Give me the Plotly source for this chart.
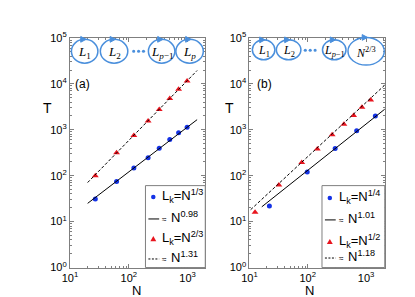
import plotly.graph_objects as go

# ---------------- data ----------------
a_N = [27, 62, 122, 213, 329, 497, 703, 980]
a_blue_T = [31, 75, 147, 245, 397, 617, 866, 1140]
a_red_T = [100, 316, 750, 1560, 2760, 4800, 7600, 11500]
a_fit_N = [20, 1450]
a_fit_blue_T = [25, 1660]
a_fit_red_T = [71, 19500]

b_blue_N = [22, 98, 295, 690, 1440]
b_blue_T = [22, 120, 390, 950, 1990]
b_red_N = [12.5, 32, 79, 146, 262, 417, 612, 850, 1200]
b_red_T = [16, 63, 193, 380, 775, 1320, 2040, 3100, 4450]
b_fit_blue_N = [16.3, 2100]
b_fit_blue_T = [21, 2820]
b_fit_red_N = [10.5, 2100]
b_fit_red_T = [18.2, 9460]

x_ticks = [10, 100, 1000]
x_ticktext = ["10<sup>1</sup>", "10<sup>2</sup>", "10<sup>3</sup>"]
y_ticks = [1, 10, 100, 1000, 10000, 100000]
y_ticktext = ["10<sup>0</sup>", "10<sup>1</sup>", "10<sup>2</sup>",
              "10<sup>3</sup>", "10<sup>4</sup>", "10<sup>5</sup>"]

leg_a = ["L<sub>k</sub>=N<sup>1/3</sup>", "N<sup>0.98</sup>",
         "L<sub>k</sub>=N<sup>2/3</sup>", "N<sup>1.31</sup>"]
leg_b = ["L<sub>k</sub>=N<sup>1/4</sup>", "N<sup>1.01</sup>",
         "L<sub>k</sub>=N<sup>1/2</sup>", "N<sup>1.18</sup>"]

W, H = 415, 297
BLUE = "#1432e6"
RED = "#e8141e"
LOOP = "#4a8fdc"
GRAY = "#7f7f7f"
FONT = "Liberation Sans, Arial, sans-serif"
DASH = "3px,2px"

fig = go.Figure()

# panel a
fig.add_trace(go.Scatter(x=a_N, y=a_blue_T, mode="markers", name=leg_a[0],
                         marker=dict(symbol="circle", size=5, color=BLUE),
                         xaxis="x", yaxis="y"))
fig.add_trace(go.Scatter(x=a_fit_N, y=a_fit_blue_T, mode="lines", name=leg_a[1],
                         line=dict(color="black", width=1),
                         xaxis="x", yaxis="y"))
fig.add_trace(go.Scatter(x=a_N, y=a_red_T, mode="markers", name=leg_a[2],
                         marker=dict(symbol="triangle-up", size=6, color=RED),
                         xaxis="x", yaxis="y"))
fig.add_trace(go.Scatter(x=a_fit_N, y=a_fit_red_T, mode="lines", name=leg_a[3],
                         line=dict(color="black", width=1, dash=DASH),
                         xaxis="x", yaxis="y"))

# panel b
fig.add_trace(go.Scatter(x=b_blue_N, y=b_blue_T, mode="markers", name=leg_b[0],
                         marker=dict(symbol="circle", size=5, color=BLUE),
                         xaxis="x2", yaxis="y2"))
fig.add_trace(go.Scatter(x=b_fit_blue_N, y=b_fit_blue_T, mode="lines", name=leg_b[1],
                         line=dict(color="black", width=1),
                         xaxis="x2", yaxis="y2"))
fig.add_trace(go.Scatter(x=b_red_N, y=b_red_T, mode="markers", name=leg_b[2],
                         marker=dict(symbol="triangle-up", size=6, color=RED),
                         xaxis="x2", yaxis="y2"))
fig.add_trace(go.Scatter(x=b_fit_red_N, y=b_fit_red_T, mode="lines", name=leg_b[3],
                         line=dict(color="black", width=1, dash=DASH),
                         xaxis="x2", yaxis="y2"))

minor_vals = [m * 10 ** k for k in range(0, 5) for m in range(2, 10)]


def px(x):
    return x / W


def py(y):
    return 1 - y / H


axis_common = dict(type="log", showgrid=False, zeroline=False, showline=True,
                   linecolor=GRAY, linewidth=1, mirror="allticks",
                   ticks="inside", ticklen=4, tickcolor=GRAY,
                   tickfont=dict(size=11, color="black", family=FONT),
                   minor=dict(tickvals=minor_vals, ticks="inside", ticklen=2,
                              tickcolor=GRAY, showgrid=False))

yd = [py(264), py(23)]
fig.update_layout(
    width=W, height=H, margin=dict(l=0, r=0, t=0, b=0),
    paper_bgcolor="white", plot_bgcolor="white", showlegend=False,
    font=dict(family=FONT, color="black"),
    xaxis=dict(axis_common, domain=[px(55), px(193)], range=[1, 3.3],
               tickvals=x_ticks, ticktext=x_ticktext, anchor="y"),
    yaxis=dict(axis_common, domain=yd, range=[0, 5],
               tickvals=y_ticks, ticktext=y_ticktext, anchor="x"),
    xaxis2=dict(axis_common, domain=[px(238), px(376)], range=[1, 3.32],
                tickvals=x_ticks, ticktext=x_ticktext, anchor="y2"),
    yaxis2=dict(axis_common, domain=yd, range=[0, 5],
                tickvals=y_ticks, ticktext=y_ticktext, anchor="x2"),
)

ann = []
shapes = []


def text(t, x, y, s, family=FONT, xanchor="center", color="black"):
    ann.append(dict(text=t, x=px(x), y=py(y), xref="paper", yref="paper",
                    showarrow=False, font=dict(size=s, family=family, color=color),
                    xanchor=xanchor, yanchor="middle"))


# axis titles and panel labels
for t, x, y, s in [("T", 32, 97, 14), ("T", 218, 97, 14),
                   ("N", 123, 288, 13), ("N", 299, 288, 13),
                   ("(a)", 68, 71, 12), ("(b)", 253, 71, 12)]:
    text(t, x, y, s)


def loop(cx, cy, rx, ry, label, size=12):
    shapes.append(dict(type="circle", xref="paper", yref="paper",
                       x0=px(cx - rx), x1=px(cx + rx), y0=py(cy + ry), y1=py(cy - ry),
                       line=dict(color=LOOP, width=1.5)))
    ax_, ay_ = cx - 2, cy - ry
    path = "M {} {} L {} {} L {} {} Z".format(px(ax_ + 3.5), py(ay_), px(ax_ - 2), py(ay_ - 3),
                                             px(ax_ - 2), py(ay_ + 3))
    shapes.append(dict(type="path", xref="paper", yref="paper", path=path,
                       fillcolor=LOOP, line=dict(color=LOOP, width=1)))
    text(label, cx, cy + 1, size, family="Liberation Serif, serif")


# panel a loops
loop(70, 37, 13.5, 12.5, "<i>L</i><sub>1</sub>", 13)
loop(100, 37, 14, 12.5, "<i>L</i><sub>2</sub>", 13)
loop(148.5, 37, 13.5, 12.5, "<i>L</i><sub><i>p</i>−1</sub>", 13)
loop(177, 37, 14, 12.5, "<i>L</i><sub><i>p</i></sub>", 13)
# panel b loops
loop(252.5, 35.5, 11.5, 10.5, "<i>L</i><sub>1</sub>", 12)
loop(278, 35.5, 12.5, 10.5, "<i>L</i><sub>2</sub>", 12)
loop(324.5, 35.5, 12, 10.5, "<i>L</i><sub><i>p</i>−1</sub>", 12)
loop(357, 37, 18.5, 14.5, "<i>N</i><sup>2/3</sup>", 12)

for cx, cy in [(125, 37), (300, 36)]:
    for dx in (-5, 0, 5):
        shapes.append(dict(type="circle", xref="paper", yref="paper",
                           x0=px(cx + dx - 1.6), x1=px(cx + dx + 1.6),
                           y0=py(cy + 1.6), y1=py(cy - 1.6),
                           fillcolor=LOOP, line=dict(color=LOOP, width=0)))


# ---------- custom legends (boxes drawn like the original) ----------
def legend(x0, x1, labels, rows=(190, 213, 234, 255)):
    shapes.append(dict(type="rect", xref="paper", yref="paper",
                       x0=px(x0), x1=px(x1), y0=py(264), y1=py(178),
                       fillcolor="white", line=dict(color=GRAY, width=1), layer="above"))
    mx = x0 + 8
    r1, r2, r3, r4 = rows
    shapes.append(dict(type="circle", xref="paper", yref="paper",
                       x0=px(mx - 2.3), x1=px(mx + 2.3), y0=py(r1 + 2.3), y1=py(r1 - 2.3),
                       fillcolor=BLUE, line=dict(width=0), layer="above"))
    path = "M {} {} L {} {} L {} {} Z".format(px(mx - 3), py(r3 + 2.3), px(mx + 3), py(r3 + 2.3),
                                             px(mx), py(r3 - 3))
    shapes.append(dict(type="path", xref="paper", yref="paper", path=path,
                       fillcolor=RED, line=dict(width=0), layer="above"))
    shapes.append(dict(type="line", xref="paper", yref="paper",
                       x0=px(x0 + 3), x1=px(x0 + 14), y0=py(r2), y1=py(r2),
                       line=dict(color="black", width=1), layer="above"))
    shapes.append(dict(type="line", xref="paper", yref="paper",
                       x0=px(x0 + 3), x1=px(x0 + 14), y0=py(r4), y1=py(r4),
                       line=dict(color="black", width=1, dash="2px,1.5px"), layer="above"))
    tx = x0 + 15
    text(labels[0], tx, r1 - 1, 13, xanchor="left")
    text("≈", x0 + 15, r2 + 1, 8, xanchor="left")
    text(labels[1], x0 + 24, r2 - 2, 13, xanchor="left")
    text(labels[2], tx, r3 - 1, 13, xanchor="left")
    text("≈", x0 + 15, r4 + 1, 8, xanchor="left")
    text(labels[3], x0 + 24, r4 - 2, 13, xanchor="left")


legend(132, 193, leg_a)
legend(312, 376, leg_b, rows=(191, 214, 237, 254))

fig.update_layout(annotations=ann, shapes=shapes)

fig.write_html("out.html")
